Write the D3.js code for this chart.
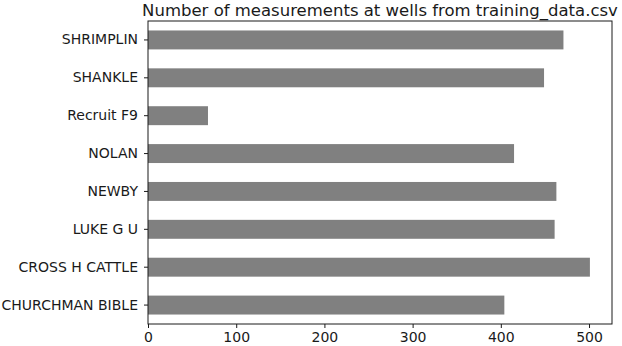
<!DOCTYPE html>
<html lang='en'>
<head>
    <meta charset='UTF-8'>
    <title>wells</title>
    <style>
        body { margin: 0; background: #fff; }
    </style>
</head>
<body>
    <div id='anchor'></div>
    <script src='https://cdnjs.cloudflare.com/ajax/libs/d3/7.8.5/d3.min.js'></script>
    <script>
        const wells = ['SHRIMPLIN', 'SHANKLE', 'Recruit F9', 'NOLAN', 'NEWBY', 'LUKE G U', 'CROSS H CATTLE', 'CHURCHMAN BIBLE'];
        const counts = [471, 449, 68, 415, 463, 461, 501, 404];
        const xTicks = [0, 100, 200, 300, 400, 500];

        const width = 622, height = 346;
        const margin = {top: 21, right: 10, bottom: 22, left: 148};

        const svg = d3.select('#anchor').append('svg')
            .attr('width', width)
            .attr('height', height)
            .attr('font-family', 'DejaVu Sans, sans-serif');

        const x = d3.scaleLinear()
            .domain([0, d3.max(counts) * 1.05])
            .range([margin.left, width - margin.right]);

        const y = d3.scaleBand()
            .domain(wells)
            .range([margin.top, height - margin.bottom])
            .paddingInner(0.5)
            .paddingOuter(0.25);

        svg.append('g')
            .selectAll('rect')
            .data(wells)
            .join('rect')
            .attr('x', x(0))
            .attr('y', d => y(d))
            .attr('width', (d, i) => x(counts[i]) - x(0))
            .attr('height', y.bandwidth())
            .attr('fill', '#808080');

        const xAxis = svg.append('g')
            .attr('transform', `translate(0,${height - margin.bottom})`)
            .call(d3.axisBottom(x).tickValues(xTicks).tickSize(4).tickPadding(4));

        const yAxis = svg.append('g')
            .attr('transform', `translate(${margin.left},0)`)
            .call(d3.axisLeft(y).tickSize(4).tickPadding(6));

        [xAxis, yAxis].forEach(a => {
            a.selectAll('text').attr('font-size', 14).attr('fill', '#1a1a1a').attr('font-family', 'DejaVu Sans, sans-serif');
            a.selectAll('line').attr('stroke', '#1a1a1a');
            a.select('.domain').remove();
        });

        // frame around the axes
        svg.append('rect')
            .attr('x', margin.left)
            .attr('y', margin.top)
            .attr('width', width - margin.left - margin.right)
            .attr('height', height - margin.top - margin.bottom)
            .attr('fill', 'none')
            .attr('stroke', '#1a1a1a')
            .attr('stroke-width', 1);

        svg.append('text')
            .attr('x', (margin.left + width - margin.right) / 2)
            .attr('y', 16)
            .attr('text-anchor', 'middle')
            .attr('font-size', 16.5)
            .attr('fill', '#1a1a1a')
            .text('Number of measurements at wells from training_data.csv');
    </script>
</body>
</html>
